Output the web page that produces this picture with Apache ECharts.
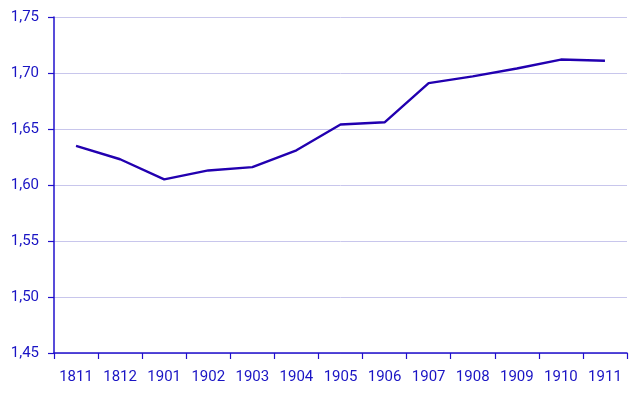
<!DOCTYPE html>
<html><head><meta charset="utf-8">
<script src="https://cdn.jsdelivr.net/npm/echarts@6/dist/echarts.min.js"></script>
<style>html,body{margin:0;padding:0;background:#fff}#c{width:643px;height:395px}</style>
</head><body><div id="c"></div>
<script>
const categories = ['1811','1812','1901','1902','1903','1904','1905','1906','1907','1908','1909','1910','1911'];
const values = [1.635,1.623,1.605,1.613,1.616,1.631,1.654,1.656,1.691,1.697,1.704,1.712,1.711];
const yMin = 1.45, yMax = 1.75, yStep = 0.05;

const textColor = '#1a14c4';
const axisColor = '#2010cc';
const chart = echarts.init(document.getElementById('c'), null, {renderer:'canvas'});
chart.setOption({
  animation:false,
  grid:{left:54,right:16,top:17,bottom:42,containLabel:false},
  xAxis:{type:'category',data:categories,boundaryGap:true,
    axisLine:{lineStyle:{color:axisColor,width:1.5}},
    axisTick:{show:true,length:6,lineStyle:{color:axisColor,width:1.2}},
    axisLabel:{color:textColor,fontFamily:'Roboto',fontSize:15,margin:17,interval:0},
    splitLine:{show:false}},
  yAxis:{type:'value',min:yMin,max:yMax,interval:yStep,
    axisLine:{show:true,lineStyle:{color:axisColor,width:1.5}},
    axisTick:{show:true,length:6,lineStyle:{color:axisColor,width:1.2}},
    axisLabel:{color:textColor,fontFamily:'Roboto',fontSize:15,margin:15,
      formatter:v=>v.toFixed(2).replace('.',',')},
    splitLine:{lineStyle:{color:'#c8c6ec',width:1}}},
  series:[{type:'line',data:values,symbol:'none',
    lineStyle:{color:'#2200b0',width:2.4}}]
});
</script></body></html>
